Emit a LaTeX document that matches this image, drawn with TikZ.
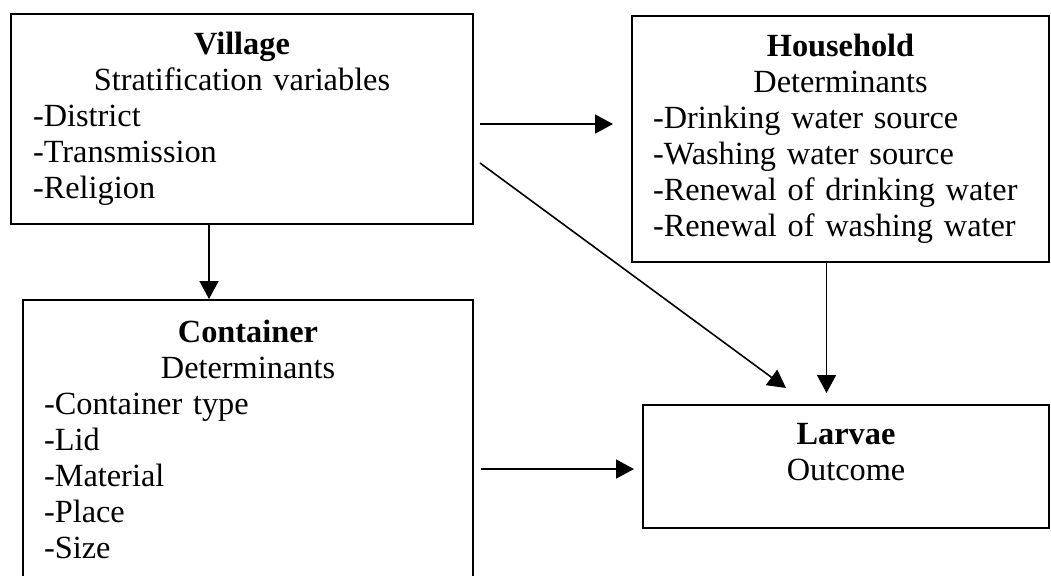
\documentclass[tikz,border=0pt]{standalone}
\usepackage{fontspec}
\setmainfont{Liberation Serif}
\usetikzlibrary{arrows.meta,positioning}
\tikzset{
    mybox/.style={draw=black,line width=1.2pt,rectangle,anchor=north west,inner sep=0pt,align=left},
    myarrow/.style={line width=0.9pt,draw=black,-{Triangle[length=0.36cm,width=0.38cm]}},
    every node/.style={font=\fontsize{18.4pt}{20.5pt}\selectfont}
}

\begin{document}
\begin{tikzpicture}[x=0.02cm,y=-0.02cm]
  \useasboundingbox (0,0) rectangle (1051,575);
  % boxes
  \node[mybox,minimum width=9.24cm,minimum height=4.2cm,text width=8.36cm] (village) at (10,13)
    {{\centering\textbf{Village}\\Stratification variables\par}-District\\-Transmission\\-Religion};
  \node[mybox,minimum width=8.34cm,minimum height=4.92cm,text width=7.5cm] (household) at (631,15)
    {{\centering\textbf{Household}\\Determinants\par}-Drinking water source\\-Washing water source\\-Renewal of drinking water\\-Renewal of washing water};
  \node[mybox,minimum width=9.0cm,minimum height=5.58cm,text width=8.16cm] (container) at (22,299)
    {{\centering\textbf{Container}\\Determinants\par}-Container type\\-Lid\\-Material\\-Place\\-Size};
  \node[mybox,align=center,minimum width=8.12cm,minimum height=2.46cm,text width=7cm,text depth=1.32cm] (larvae) at (642,404)
    {\textbf{Larvae}\\Outcome};
  % arrows
  \draw[myarrow,shorten <=0.12cm,shorten >=0.36cm] ([yshift=-0.1cm]village.east) -- ([yshift=-0.1cm]village.east -| household.west);
  \draw[myarrow] ([shift={(6,44)}]village.east) -- ([shift={(-60,-16)}]larvae.north);
  \draw[myarrow] ([xshift=-0.66cm]village.south) -- ([xshift=-0.66cm]village.south |- container.north);
  \draw[myarrow,shorten >=0.22cm] ([xshift=-0.28cm]household.south) -- ([xshift=-0.28cm]household.south |- larvae.north);
  \draw[myarrow,shorten <=0.14cm,shorten >=0.16cm] ([yshift=-0.05cm]container.east |- larvae.west) -- ([yshift=-0.05cm]larvae.west);
\end{tikzpicture}
\end{document}
